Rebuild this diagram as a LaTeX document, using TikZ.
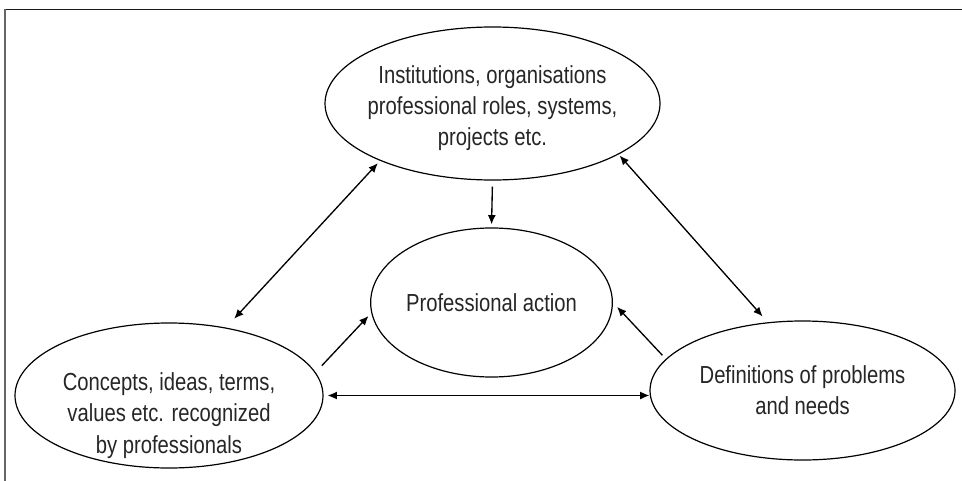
\documentclass[tikz,border=0pt]{standalone}
\usepackage{fontspec}
\setmainfont[FakeStretch=0.82]{Liberation Sans}
\usetikzlibrary{arrows.meta,shapes.geometric}

\begin{document}
\begin{tikzpicture}[x=0.75pt,y=-0.75pt,
    words/.style={align=center,text=black!85,font=\fontsize{18.5}{23.5}\selectfont},
    bubble/.style={ellipse,draw,line width=0.9pt,inner sep=0pt,words},
    link/.style={line width=1pt,>={Latex[length=7pt,width=6pt]}}]

    \useasboundingbox (0,0) rectangle (962,481);
    \draw[line width=1.1pt,black!90] (4.7,9.3) -- (962,9.3); % frame top
    \draw[line width=1.5pt,black!60] (4.7,9.3) -- (4.7,481); % frame left

    \node[bubble,minimum width=251.25pt,minimum height=114.75pt,
      label={[words,yshift=-3.5pt]center:Institutions, organisations\\professional roles, systems,\\projects etc.}]
      (inst) at (492.5,103.5) {};
    \node[bubble,minimum width=176.25pt,minimum height=111.75pt] (act) at (491.5,302.5)
      {Professional action};
    \node[bubble,minimum width=231pt,minimum height=108.75pt,
      label={[words,yshift=-15pt]center:Concepts, ideas, terms,\\values etc. recognized\\by professionals}]
      (conc) at (169,395.5) {};
    \node[bubble,minimum width=228.75pt,minimum height=104.25pt] (def) at (802.5,390.5)
      {Definitions of problems\\and needs};

    \draw[link,->,shorten <=4.5pt,shorten >=2.25pt] (inst.south) -- (act.north);
    \draw[link,<->,shorten <=9pt,shorten >=2.4pt] (conc.50) -- (inst.207);
    \draw[link,<->,shorten <=1.1pt,shorten >=5.8pt] (inst.338) -- (def.117);
    \draw[link,->,shorten <=6.75pt,shorten >=3pt] (conc.9) -- (act.185);
    \draw[link,->,shorten <=3.75pt,shorten >=4.5pt] (def.167) -- (act.0);
    \draw[link,<->,shorten <=3pt] (conc.east) -- (conc.east -| def.west);

  \end{tikzpicture}
\end{document}
